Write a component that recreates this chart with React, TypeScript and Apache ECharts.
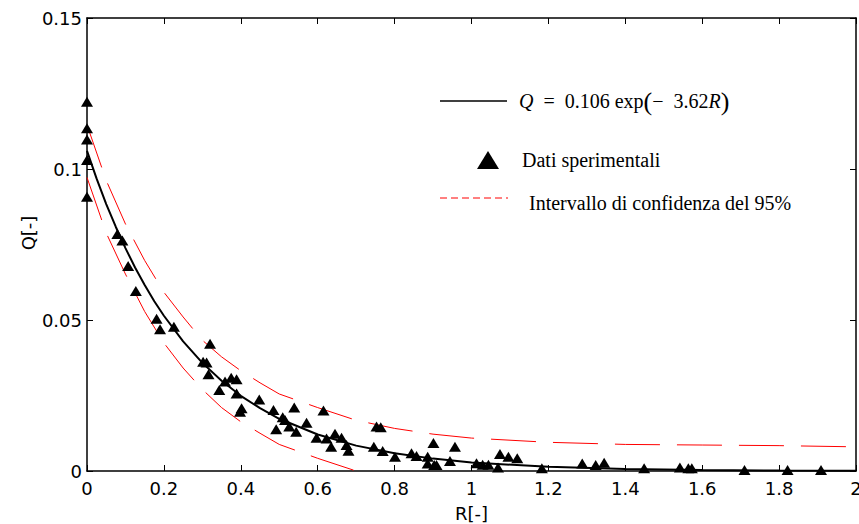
import React, { useEffect, useRef } from "react";
import * as echarts from "echarts";

// Experimental data (R, Q)
const expR = [
  0, 0, 0, 0, 0, 0.079, 0.092, 0.107, 0.127, 0.181, 0.19, 0.226, 0.32, 0.302, 0.311, 0.316,
  0.344, 0.359, 0.375, 0.389, 0.389, 0.402, 0.398, 0.448, 0.485, 0.539, 0.492, 0.509, 0.515,
  0.526, 0.544, 0.571, 0.615, 0.597, 0.623, 0.635, 0.645, 0.662, 0.675, 0.68, 0.746, 0.769,
  0.753, 0.764, 0.801, 0.844, 0.857, 0.886, 0.901, 0.886, 0.903, 0.909, 0.944, 0.957, 1.013,
  1.029, 1.044, 1.069, 1.074, 1.096, 1.119, 1.183, 1.288, 1.323, 1.345, 1.449, 1.542, 1.564,
  1.573, 1.71, 1.822, 1.909,
];
const expQ = [
  0.1223, 0.1135, 0.1098, 0.103, 0.0908, 0.0785, 0.0763, 0.0679, 0.0596, 0.0504, 0.0469,
  0.0478, 0.0421, 0.0362, 0.0359, 0.032, 0.0268, 0.0296, 0.0309, 0.0304, 0.0257, 0.0208,
  0.0196, 0.0237, 0.0202, 0.021, 0.0138, 0.0178, 0.0169, 0.0147, 0.013, 0.016, 0.02, 0.011,
  0.0108, 0.008, 0.0123, 0.011, 0.0086, 0.0067, 0.008, 0.0066, 0.0147, 0.0145, 0.0047,
  0.0059, 0.005, 0.0047, 0.0093, 0.0025, 0.002, 0.002, 0.0033, 0.008, 0.0026, 0.0021, 0.0021,
  0.0012, 0.0056, 0.0047, 0.0042, 0.0009, 0.0025, 0.002, 0.0027, 0.0009, 0.0012, 0.0009,
  0.0009, 0.0003, 0.0003, 0.0003,
];

// Fitted curve
const fitR = [0, 0.025, 0.05, 0.075, 0.1, 0.125, 0.15, 0.175, 0.2, 0.25, 0.3, 0.35, 0.4, 0.45, 0.5, 0.6, 0.7, 0.8, 0.9, 1.0, 1.2, 1.4, 1.6, 1.8, 2.0];
const fitQ = [0.106, 0.0968, 0.0884, 0.0808, 0.0738, 0.0674, 0.0616, 0.0562, 0.0514, 0.0429, 0.0358, 0.0299, 0.0249, 0.0208, 0.0173, 0.0121, 0.0084, 0.0059, 0.0041, 0.0028, 0.0014, 0.0007, 0.0003, 0.00016, 0.00008];

// 95% confidence band
const upperR = [0, 0.05, 0.1, 0.15, 0.2, 0.25, 0.3, 0.35, 0.4, 0.45, 0.5, 0.6, 0.7, 0.8, 0.9, 1.0, 1.2, 1.4, 1.6, 1.8, 2.0];
const upperQ = [0.1146, 0.0962, 0.0818, 0.0697, 0.0592, 0.051, 0.0433, 0.0378, 0.0332, 0.0292, 0.0255, 0.021, 0.0168, 0.0141, 0.0122, 0.0109, 0.0095, 0.0088, 0.0086, 0.0084, 0.008];
const lowerR = [0, 0.05, 0.1, 0.15, 0.2, 0.25, 0.3, 0.35, 0.4, 0.45, 0.5, 0.6, 0.7];
const lowerQ = [0.0972, 0.0788, 0.0652, 0.0528, 0.0424, 0.0341, 0.027, 0.021, 0.0163, 0.0125, 0.0088, 0.0042, 0.0];

const legendFormula = "{i|Q}  =  0.106 exp{p|(}−  3.62{i|R}{p|)}";
const legendData = "Dati sperimentali";
const legendBand = "Intervallo di confidenza del 95%";

export default function App() {
  const ref = useRef<HTMLDivElement>(null);
  useEffect(() => {
    const chart = echarts.init(ref.current!, null, { renderer: "svg" });
    const axisFont = { fontFamily: "DejaVu Sans", fontSize: 18, color: "#000" };
    const axisLine = { show: true, onZero: false, lineStyle: { color: "#000", width: 1.5 } };
    const tick = { show: true, inside: true, length: 6, lineStyle: { color: "#000", width: 1 } };
    const serif = "Liberation Serif";
    chart.setOption({
      animation: false,
      grid: { left: 87, right: 3, top: 18, bottom: 53, outerBoundsMode: "none", containLabel: false },
      xAxis: [
        {
          type: "value", min: 0, max: 2, interval: 0.2, position: "bottom",
          axisLine, axisTick: tick, splitLine: { show: false },
          axisLabel: { ...axisFont, margin: 8 },
          name: "R[-]", nameLocation: "middle", nameGap: 33, nameTextStyle: axisFont,
        },
        {
          type: "value", min: 0, max: 2, interval: 0.2, position: "top",
          axisLine, axisTick: tick, splitLine: { show: false }, axisLabel: { show: false },
        },
      ],
      yAxis: [
        {
          type: "value", min: 0, max: 0.15, interval: 0.05, position: "left",
          axisLine, axisTick: tick, splitLine: { show: false },
          axisLabel: { ...axisFont, margin: 5 },
        },
        {
          type: "value", min: 0, max: 0.15, interval: 0.05, position: "right",
          axisLine, axisTick: tick, splitLine: { show: false }, axisLabel: { show: false },
        },
      ],
      series: [
        {
          type: "line", data: upperR.map((r, i) => [r, upperQ[i]]), showSymbol: false, symbol: "none",
          lineStyle: { color: "#ff0000", width: 1, type: [45, 17] }, z: 2,
        },
        {
          type: "line", data: lowerR.map((r, i) => [r, lowerQ[i]]), showSymbol: false, symbol: "none",
          lineStyle: { color: "#ff0000", width: 1, type: [45, 17] }, z: 2,
        },
        {
          type: "line", data: fitR.map((r, i) => [r, fitQ[i]]), showSymbol: false, symbol: "none",
          lineStyle: { color: "#000", width: 2 }, z: 3,
        },
        {
          type: "scatter", data: expR.map((r, i) => [r, expQ[i]]), symbol: "triangle",
          symbolSize: [12, 10], itemStyle: { color: "#000", opacity: 1 }, z: 4,
        },
      ],
      graphic: [
        { type: "line", shape: { x1: 440, y1: 101, x2: 507, y2: 101 }, style: { stroke: "#000", lineWidth: 1.5 } },
        {
          type: "text", x: 519, y: 101,
          style: {
            text: legendFormula, fontFamily: serif, fontSize: 20, fill: "#000", verticalAlign: "middle",
            rich: {
              i: { fontFamily: serif, fontSize: 20, fontStyle: "italic", fill: "#000" },
              p: { fontFamily: serif, fontSize: 26, fill: "#000" },
            },
          },
        },
        { type: "polygon", shape: { points: [[477, 169], [499, 169], [488, 151]] }, style: { fill: "#000" } },
        {
          type: "text", x: 522, y: 160,
          style: { text: legendData, fontFamily: serif, fontSize: 20, fill: "#000", verticalAlign: "middle" },
        },
        {
          type: "line", shape: { x1: 440, y1: 198, x2: 508, y2: 198 },
          style: { stroke: "#ff0000", lineWidth: 1, lineDash: [7, 4] },
        },
        {
          type: "text", x: 529, y: 203,
          style: { text: legendBand, fontFamily: serif, fontSize: 20, fill: "#000", verticalAlign: "middle" },
        },
        {
          type: "text", x: 28, y: 233, rotation: Math.PI / 2,
          style: { text: "Q[-]", fontFamily: "DejaVu Sans", fontSize: 18, fill: "#000", align: "center", verticalAlign: "middle" },
        },
      ],
    });
    return () => chart.dispose();
  }, []);
  return <div ref={ref} style={{ position: "absolute", left: 0, top: 0, width: 859, height: 524 }} />;
}
